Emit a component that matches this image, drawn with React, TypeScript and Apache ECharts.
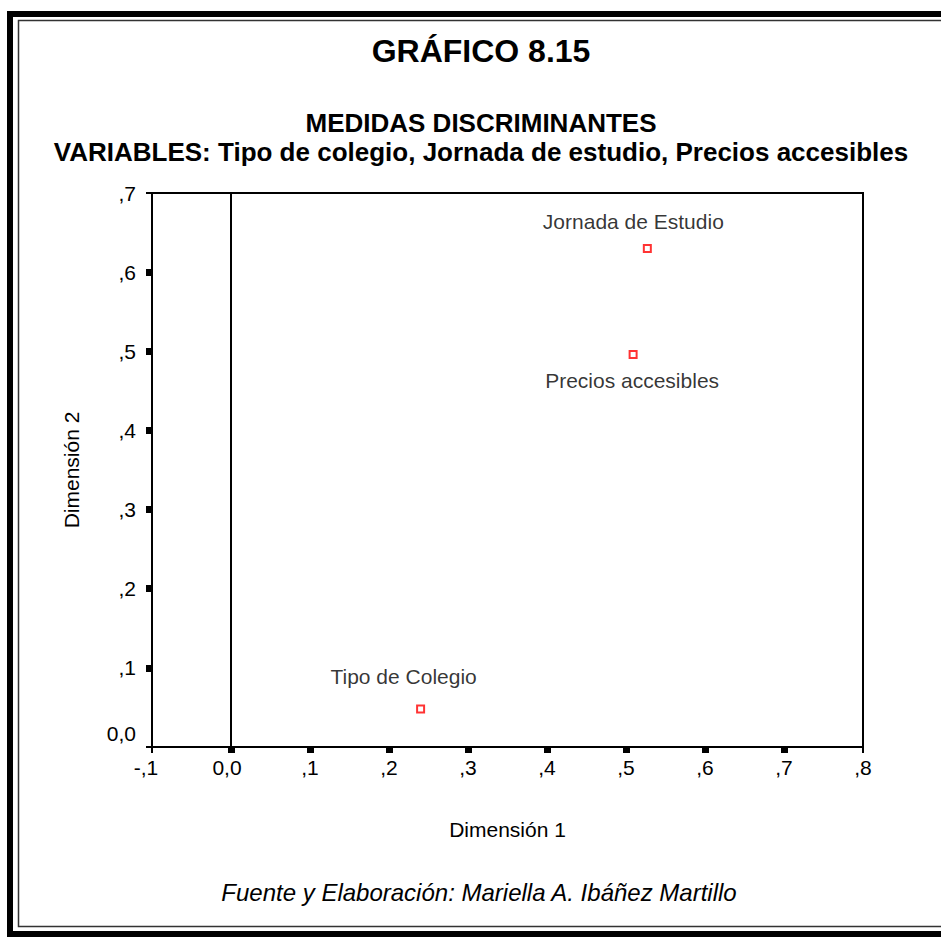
import React, { useEffect, useRef } from "react";
import * as echarts from "echarts";

const pointNames = ["Tipo de Colegio", "Jornada de Estudio", "Precios accesibles"];
const dim1Values = [0.24, 0.527, 0.509];
const dim2Values = [0.048, 0.63, 0.496];

const xTickValues = [-0.1, 0, 0.1, 0.2, 0.3, 0.4, 0.5, 0.6, 0.7, 0.8];
const xTickLabels = ["-,1", "0,0", ",1", ",2", ",3", ",4", ",5", ",6", ",7", ",8"];
const yTickValues = [0, 0.1, 0.2, 0.3, 0.4, 0.5, 0.6, 0.7];
const yTickLabels = ["0,0", ",1", ",2", ",3", ",4", ",5", ",6", ",7"];

const titleText = "GRÁFICO 8.15";
const subtitle1 = "MEDIDAS DISCRIMINANTES";
const subtitle2 = "VARIABLES: Tipo de colegio, Jornada de estudio, Precios accesibles";
const footerText = "Fuente y Elaboración: Mariella A. Ibáñez Martillo";
const xName = "Dimensión 1";
const yName = "Dimensión 2";

const labelOffsets: Record<string, number[]> = {
  "Tipo de Colegio": [-17, -33],
  "Jornada de Estudio": [-14, -27],
  "Precios accesibles": [-1, 26],
};

const FONT = "'Liberation Sans', Arial, Helvetica, sans-serif";
const FS = 21;

function findLabel(values: number[], labels: string[], v: number) {
  const i = values.findIndex((t) => Math.abs(t - v) < 1e-6);
  return i >= 0 ? labels[i] : "";
}

function textEl(text: string, x: number, y: number, font: string) {
  return {
    type: "text",
    x,
    y,
    silent: true,
    style: {
      text,
      font,
      fill: "#000",
      align: "center",
      verticalAlign: "middle",
      textAlign: "center",
      textVerticalAlign: "middle",
    },
  };
}

export default function App() {
  const ref = useRef<HTMLDivElement>(null);

  useEffect(() => {
    if (!ref.current) return;
    const chart = echarts.init(ref.current, undefined, { renderer: "svg" });

    const innerTicks = xTickValues.filter((v, i) => i > 0 && i < xTickValues.length - 1);
    const innerYTicks = yTickValues.filter((v, i) => i > 0 && i < yTickValues.length - 1);

    const option: any = {
      animation: false,
      backgroundColor: "#fff",
      textStyle: { fontFamily: FONT },
      grid: {
        left: 152,
        top: 193,
        width: 711,
        height: 554,
        show: true,
        borderColor: "#000",
        borderWidth: 2,
        backgroundColor: "transparent",
        containLabel: false,
      },
      xAxis: [
        {
          type: "value",
          min: -0.1,
          max: 0.8,
          interval: 0.1,
          position: "bottom",
          splitLine: { show: false },
          axisLine: { show: false, onZero: false },
          axisTick: {
            show: true,
            inside: false,
            length: 6,
            customValues: innerTicks,
            lineStyle: { color: "#000", width: 7 },
          },
          axisLabel: {
            show: true,
            margin: 10,
            color: "#000",
            fontSize: FS,
            fontFamily: FONT,
            formatter: (v: number) => {
              const s = findLabel(xTickValues, xTickLabels, v);
              if (Math.abs(v + 0.1) < 1e-6) return "{sl|" + s + "}";
              if (Math.abs(v) < 1e-6) return "{sm|" + s + "}";
              return s;
            },
            rich: {
              sl: { padding: [0, 12, 0, 0], fontSize: FS, fontFamily: FONT, color: "#000" },
              sm: { padding: [0, 8, 0, 0], fontSize: FS, fontFamily: FONT, color: "#000" },
            },
          },
          name: xName,
          nameLocation: "middle",
          nameGap: 72,
          nameTextStyle: { color: "#000", fontSize: FS, fontFamily: FONT },
        },
        {
          type: "value",
          min: -0.1,
          max: 0.8,
          interval: 0.1,
          position: "bottom",
          offset: 0,
          splitLine: { show: false },
          axisLine: { show: false, onZero: false },
          axisLabel: { show: false },
          axisTick: {
            show: true,
            length: 6,
            customValues: [xTickValues[0], xTickValues[xTickValues.length - 1]],
            lineStyle: { color: "#000", width: 2 },
          },
        },
      ],
      yAxis: [
        {
          type: "value",
          min: 0,
          max: 0.7,
          interval: 0.1,
          position: "left",
          splitLine: { show: false },
          axisLine: { show: false, onZero: false },
          axisTick: {
            show: true,
            inside: false,
            length: 6,
            customValues: innerYTicks,
            lineStyle: { color: "#000", width: 7 },
          },
          axisLabel: {
            show: true,
            margin: 16,
            color: "#000",
            fontSize: FS,
            fontFamily: FONT,
            formatter: (v: number) => {
              const s = findLabel(yTickValues, yTickLabels, v);
              if (Math.abs(v) < 1e-6) return "{up|" + s + "}";
              return s;
            },
            rich: {
              up: { padding: [0, 0, 28, 0], fontSize: FS, fontFamily: FONT, color: "#000" },
            },
          },
          name: yName,
          nameLocation: "middle",
          nameGap: 70,
          nameTextStyle: { color: "#000", fontSize: FS, fontFamily: FONT },
        },
        {
          type: "value",
          min: 0,
          max: 0.7,
          interval: 0.1,
          position: "left",
          offset: 0,
          splitLine: { show: false },
          axisLine: { show: false, onZero: false },
          axisLabel: { show: false },
          axisTick: {
            show: true,
            length: 6,
            customValues: [yTickValues[0], yTickValues[yTickValues.length - 1]],
            lineStyle: { color: "#000", width: 2 },
          },
        },
      ],
      series: [
        {
          type: "scatter",
          xAxisIndex: 0,
          yAxisIndex: 0,
          symbol: "rect",
          symbolSize: 7,
          itemStyle: { color: "#fff", borderColor: "#ff0000", borderWidth: 2 },
          data: pointNames.map((name, i) => ({
            name,
            value: [dim1Values[i], dim2Values[i]],
            label: {
              show: true,
              position: "inside",
              offset: labelOffsets[name],
              formatter: name,
              color: "#000",
              fontSize: FS,
              fontFamily: FONT,
            },
          })),
          markLine: {
            silent: true,
            symbol: "none",
            animation: false,
            label: { show: false },
            lineStyle: { color: "#000", width: 2, type: "solid" },
            data: [{ xAxis: 0 }],
          },
          z: 5,
        },
      ],
      graphic: [
        {
          type: "rect",
          silent: true,
          shape: { x: 10, y: 14, width: 960, height: 920 },
          style: { fill: "none", stroke: "#000", lineWidth: 6 },
        },
        {
          type: "rect",
          silent: true,
          shape: { x: 18.5, y: 20.5, width: 940, height: 906 },
          style: { fill: "none", stroke: "#333", lineWidth: 1.5 },
        },
        textEl(titleText, 481, 51, "bold 32px " + FONT),
        textEl(subtitle1, 481, 123, "bold 26px " + FONT),
        textEl(subtitle2, 481, 152, "bold 26px " + FONT),
        textEl(footerText, 479, 892, "italic 24px " + FONT),
      ],
    };

    chart.setOption(option);
    return () => chart.dispose();
  }, []);

  return (
    <div
      ref={ref}
      style={{ position: "absolute", left: 0, top: 0, width: 941, height: 938, background: "#fff" }}
    />
  );
}
